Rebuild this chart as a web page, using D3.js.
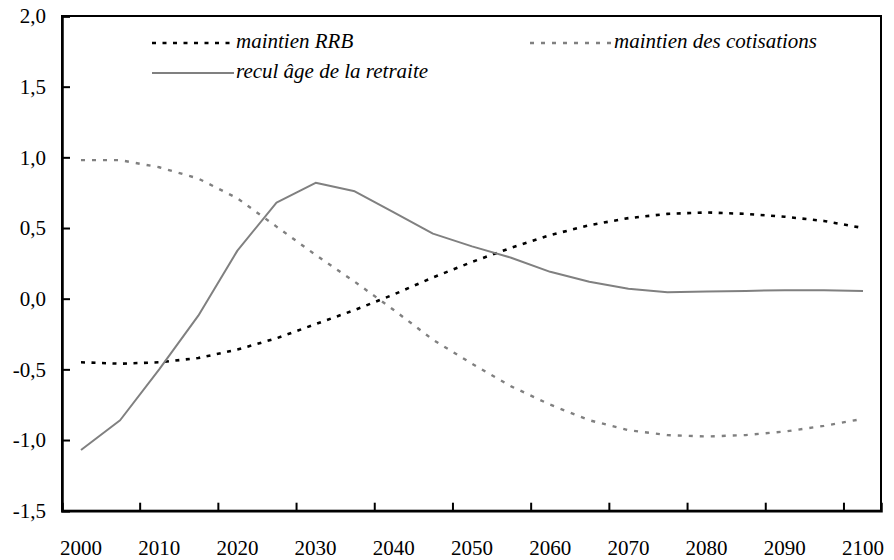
<!DOCTYPE html>
<html>
<head>
<meta charset="utf-8">
<script src="https://cdn.jsdelivr.net/npm/d3@7"></script>
<style>
  body { margin: 0; background: #fff; }
</style>
</head>
<body>
<svg id="chart" width="894" height="560"></svg>
<script>
// data, every 5 years
let years = [2000, 2005, 2010, 2015, 2020, 2025, 2030, 2035, 2040, 2045, 2050,
  2055, 2060, 2065, 2070, 2075, 2080, 2085, 2090, 2095, 2100];
let maintienRRB = [-0.45, -0.46, -0.45, -0.42, -0.36, -0.28, -0.18, -0.08, 0.03, 0.15, 0.26,
  0.36, 0.45, 0.52, 0.57, 0.60, 0.61, 0.60, 0.58, 0.55, 0.50];
let maintienCotis = [0.98, 0.98, 0.93, 0.85, 0.71, 0.51, 0.31, 0.12, -0.08, -0.29, -0.46,
  -0.62, -0.75, -0.86, -0.93, -0.965, -0.975, -0.965, -0.94, -0.90, -0.85];
let reculAge = [-1.07, -0.86, -0.50, -0.12, 0.34, 0.68, 0.82, 0.76, 0.61, 0.46, 0.37,
  0.29, 0.19, 0.12, 0.07, 0.045, 0.05, 0.055, 0.06, 0.06, 0.055];
let yTicks = [-1.5, -1.0, -0.5, 0, 0.5, 1.0, 1.5, 2.0];
let xLabels = [2000, 2010, 2020, 2030, 2040, 2050, 2060, 2070, 2080, 2090, 2100];
let xTickMarks = [2007.5, 2017.5, 2027.5, 2037.5, 2047.5, 2057.5, 2067.5, 2077.5, 2087.5, 2097.5];

let svg = d3.select('#chart');
let plotLeft = 62, plotRight = 881, plotTop = 16, plotBottom = 510.7;
let serif = "'Liberation Serif', 'Times New Roman', Times, Tinos, 'Nimbus Roman', 'Nimbus Roman No9 L', FreeSerif, 'DejaVu Serif', 'Noto Serif', serif";

let x = d3.scaleLinear().domain([1997.57, 2102.3]).range([plotLeft, plotRight]);
let y = d3.scaleLinear().domain([-1.5, 2.0]).range([plotBottom, plotTop]);

let series = [
  { name: 'maintien RRB', values: maintienRRB, color: '#000', dash: '4,6.5', width: 2.6 },
  { name: 'maintien des cotisations', values: maintienCotis, color: '#808080', dash: '4,7', width: 2.4 },
  { name: 'recul âge de la retraite', values: reculAge, color: '#808080', dash: null, width: 2 }
];

// frame
svg.append('rect')
  .attr('x', plotLeft).attr('y', plotTop)
  .attr('width', plotRight - plotLeft).attr('height', plotBottom - plotTop)
  .attr('fill', 'none').attr('stroke', '#000').attr('stroke-width', 2);

// y axis (ticks inside)
let yAxis = svg.append('g').attr('transform', 'translate(' + plotLeft + ',0)')
  .call(d3.axisRight(y).tickValues(yTicks).tickSize(8).tickFormat(''));
yAxis.select('.domain').attr('stroke-width', 2.5);
yAxis.selectAll('.tick line').attr('stroke-width', 2);

svg.append('g').selectAll('text')
  .data(yTicks)
  .enter().append('text')
  .attr('x', 46)
  .attr('y', function (d) { return y(d); })
  .attr('dy', '0.35em')
  .attr('text-anchor', 'end')
  .style('font-family', serif)
  .style('font-size', '21px')
  .text(function (d) { return d3.format('.1f')(d).replace('.', ',').replace('−', '-'); });

// x axis (ticks inside, labels centred on years)
let xAxis = svg.append('g').attr('transform', 'translate(0,' + plotBottom + ')')
  .call(d3.axisTop(x).tickValues(xTickMarks).tickSize(8).tickFormat(''));
xAxis.select('.domain').attr('stroke-width', 2.5);
xAxis.selectAll('.tick line').attr('stroke-width', 2);

svg.append('g').selectAll('text')
  .data(xLabels)
  .enter().append('text')
  .attr('x', function (d) { return x(d); })
  .attr('y', 555)
  .attr('text-anchor', 'middle')
  .style('font-family', serif)
  .style('font-size', '21px')
  .text(function (d) { return d; });

// lines
let line = d3.line()
  .x(function (d, i) { return x(years[i]); })
  .y(function (d) { return y(d); });

svg.append('g').selectAll('path')
  .data(series)
  .enter().append('path')
  .attr('d', function (d) { return line(d.values); })
  .attr('fill', 'none')
  .attr('stroke', function (d) { return d.color; })
  .attr('stroke-width', function (d) { return d.width; })
  .attr('stroke-dasharray', function (d) { return d.dash; })
  .attr('stroke-linejoin', 'round');

// legend
let legendPos = [
  { x: 152, y: 43 },
  { x: 530, y: 43 },
  { x: 152, y: 73 }
];

let legend = svg.append('g').selectAll('g')
  .data(series)
  .enter().append('g')
  .attr('transform', function (d, i) { return 'translate(' + legendPos[i].x + ',' + legendPos[i].y + ')'; });

legend.append('line')
  .attr('x1', 0).attr('x2', 82)
  .attr('stroke', function (d) { return d.color; })
  .attr('stroke-width', function (d) { return d.width; })
  .attr('stroke-dasharray', function (d) { return d.dash; });

legend.append('text')
  .attr('x', 84)
  .attr('y', 5)
  .style('font-family', serif)
  .style('font-size', '21px')
  .style('font-style', 'italic')
  .text(function (d) { return d.name; });
</script>
</body>
</html>
